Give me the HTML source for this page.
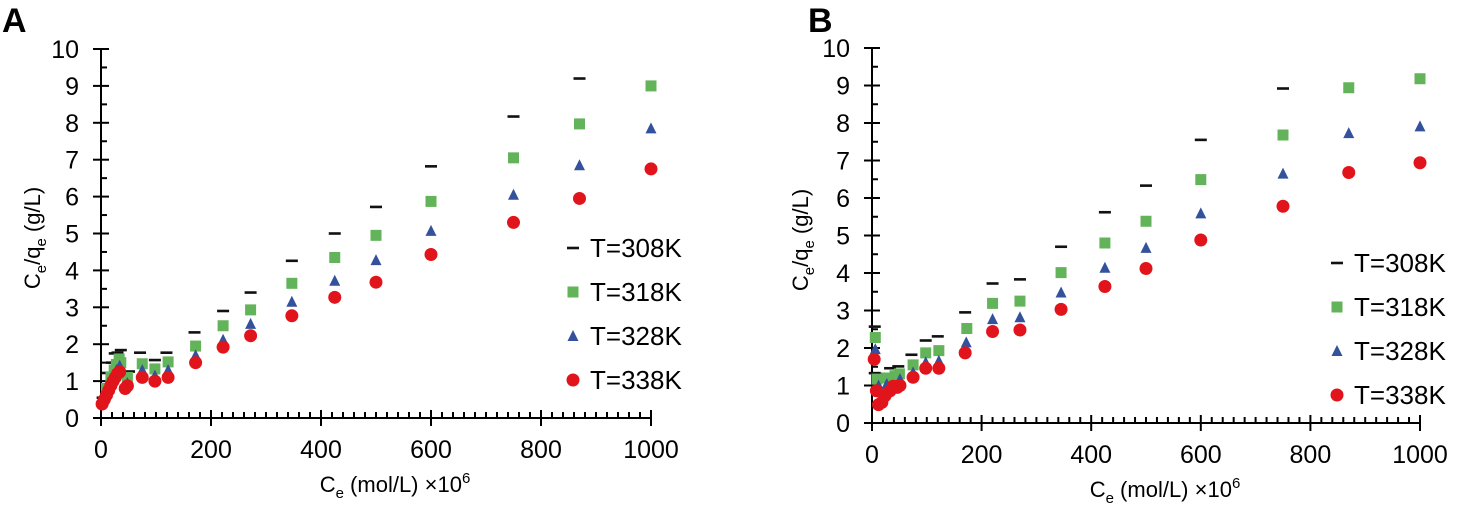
<!DOCTYPE html>
<html><head><meta charset="utf-8"><style>
html,body{margin:0;padding:0;background:#fff}
svg{display:block;font-family:"Liberation Sans",Arial,sans-serif}
</style></head><body>
<svg id="s" width="1460" height="515" viewBox="0 0 1460 515"></svg>
<script>
// Panel A data
const aX308=[3,12,20,25,30,36,51,71,98,119,170,222,272,347,425,500,600,750,870];
const aY308=[0.55,1.22,1.5,1.75,1.77,1.84,1.26,1.77,1.57,1.77,2.32,2.9,3.4,4.26,5.0,5.72,6.82,8.17,9.2];
const aX318=[10,18,24,28,33,36,48,75,98,122,172,222,272,347,425,500,600,750,870,1000];
const aY318=[0.8,1.1,1.3,1.45,1.6,1.5,1.1,1.47,1.33,1.52,1.95,2.5,2.93,3.65,4.35,4.95,5.87,7.05,7.97,9.0];
const aX328=[5,10,16,22,28,34,48,75,98,122,172,222,272,347,425,500,600,750,870,1000];
const aY328=[0.5,0.7,0.9,1.1,1.3,1.42,0.95,1.3,1.15,1.3,1.7,2.12,2.55,3.15,3.72,4.28,5.07,6.05,6.85,7.85];
const aX338=[2,6,10,14,18,22,26,30,34,44,48,75,98,122,172,222,272,347,425,500,600,750,870,1000];
const aY338=[0.38,0.5,0.62,0.75,0.88,1.0,1.1,1.2,1.25,0.8,0.87,1.1,1.0,1.1,1.5,1.92,2.23,2.77,3.27,3.68,4.43,5.3,5.95,6.75];
// Panel B data
const bX308=[5,5,27,33,48,72,98,120,170,220,270,345,425,500,600,750];
const bY308=[2.57,1.33,1.31,1.46,1.51,1.82,2.2,2.31,2.95,3.72,3.83,4.70,5.62,6.33,7.55,8.92];
const bX318=[6,9,27,42,50,75,98,122,173,220,270,345,425,500,600,750,870,1000];
const bY318=[2.28,1.17,1.2,1.26,1.31,1.55,1.87,1.93,2.52,3.19,3.25,4.01,4.80,5.38,6.49,7.68,8.94,9.18];
const bX328=[6,12,27,51,75,98,122,172,220,270,345,425,500,600,750,870,1000];
const bY328=[1.97,1.0,1.04,1.17,1.35,1.62,1.66,2.15,2.77,2.82,3.48,4.14,4.67,5.59,6.65,7.73,7.91];
const bX338=[4,8,12,18,24,33,39,46,51,75,98,122,170,220,270,345,425,500,600,750,870,1000];
const bY338=[1.7,0.86,0.49,0.55,0.73,0.86,0.98,0.95,1.0,1.22,1.46,1.46,1.87,2.44,2.48,3.03,3.64,4.12,4.88,5.78,6.68,6.94];
const xTicks=[0,200,400,600,800,1000];
const yTicks=[0,1,2,3,4,5,6,7,8,9,10];
const legendLabels=["T=308K","T=318K","T=328K","T=338K"];

const NS="http://www.w3.org/2000/svg";
const svg=document.getElementById('s');
function el(tag,attrs,parent,text){const e=document.createElementNS(NS,tag);for(const k in attrs)e.setAttribute(k,attrs[k]);if(text!==undefined)e.textContent=text;(parent||svg).appendChild(e);return e;}
const COLORS=['#111','#63b35a','#34529c','#e2141b'];
function marker(g,kind,cx,cy,name){
  let m;
  if(kind===0) m=el('rect',{x:cx-6,y:cy-1.3,width:12,height:2.6,fill:COLORS[0]},g);
  else if(kind===1) m=el('rect',{x:cx-5.5,y:cy-5.5,width:11,height:11,fill:COLORS[1]},g);
  else if(kind===2) m=el('polygon',{points:`${cx},${cy-6} ${cx+5.5},${cy+5} ${cx-5.5},${cy+5}`,fill:COLORS[2]},g);
  else m=el('circle',{cx:cx,cy:cy,r:6.5,fill:COLORS[3]},g);
  
  
  return m;
}
function panel(cfg){
  const g=el('g',{});
  
  
  const sx=v=>cfg.x0+(cfg.x1-cfg.x0)*v/1000;
  const sy=v=>cfg.y0-(cfg.y0-cfg.y10)*v/10;
  const t=el('text',{x:cfg.lx,y:32,'font-size':34,'font-weight':'bold',fill:'#000'},g,cfg.letter);
  
  const ax=el('g',{stroke:'#000','stroke-width':2},g);
  
  el('line',{x1:cfg.x0,y1:cfg.y0,x2:cfg.x1,y2:cfg.y0},ax);
  el('line',{x1:cfg.x0,y1:cfg.y0,x2:cfg.x0,y2:cfg.y10},ax);
  for(let v=0;v<=1000;v+=20){const X=sx(v);const maj=v%200===0;el('line',{x1:X,y1:cfg.y0-(maj?8:6),x2:X,y2:cfg.y0+(maj?8:0)},ax);}
  for(let v=0;v<=10;v+=0.5){const Y=sy(v);const maj=Number.isInteger(v);el('line',{x1:cfg.x0-(maj?8:0),y1:Y,x2:cfg.x0+(maj?8:6),y2:Y},ax);}
  xTicks.forEach(v=>{const e=el('text',{x:sx(v),y:cfg.y0+40,'font-size':25,'text-anchor':'middle',fill:'#000'},g,String(v));});
  yTicks.forEach(v=>{const e=el('text',{x:cfg.x0-22,y:sy(v)+9,'font-size':25,'text-anchor':'end',fill:'#000'},g,String(v));});
  const xt=el('text',{x:cfg.xtx,y:cfg.xty,'font-size':22,'text-anchor':'middle',fill:'#000'},g);
  
  xt.innerHTML='C<tspan font-size="15" dy="6">e</tspan><tspan dy="-6"> (mol/L) ×10</tspan><tspan font-size="15" dy="-9">6</tspan>';
  const yt=el('text',{x:0,y:0,'font-size':22,'text-anchor':'middle',fill:'#000',transform:`translate(${cfg.ytx},${cfg.yty}) rotate(-90)`},g);
  
  yt.innerHTML='C<tspan font-size="15" dy="6">e</tspan><tspan dy="-6">/q</tspan><tspan font-size="15" dy="6">e</tspan><tspan dy="-6"> (g/L)</tspan>';
  cfg.series.forEach((s,k)=>{
    const sg=el('g',{},g);
    
    
    s[0].forEach((xv,i)=>marker(sg,k,sx(xv),sy(s[1][i]),'data-point'));
  });
  const lg=el('g',{},g);
  
  legendLabels.forEach((lab,k)=>{
    const Y=cfg.legY+k*44;
    const eg=el('g',{},lg);
    
    marker(eg,k,cfg.legX,Y,'legend-marker');
    const e=el('text',{x:cfg.legX+17,y:Y+9,'font-size':26,fill:'#000'},eg,lab);
    
  });
}
panel({name:'panel-a',letter:'A',lx:2,x0:101,x1:651,y0:418,y10:49,xtx:395,xty:492,ytx:40,yty:238,legX:573,legY:248,
  series:[[aX308,aY308],[aX318,aY318],[aX328,aY328],[aX338,aY338]]});
panel({name:'panel-b',letter:'B',lx:808,x0:872,x1:1420,y0:423,y10:48,xtx:1165,xty:497,ytx:808,yty:240,legX:1337,legY:263,
  series:[[bX308,bY308],[bX318,bY318],[bX328,bY328],[bX338,bY338]]});
</script>
</body></html>
